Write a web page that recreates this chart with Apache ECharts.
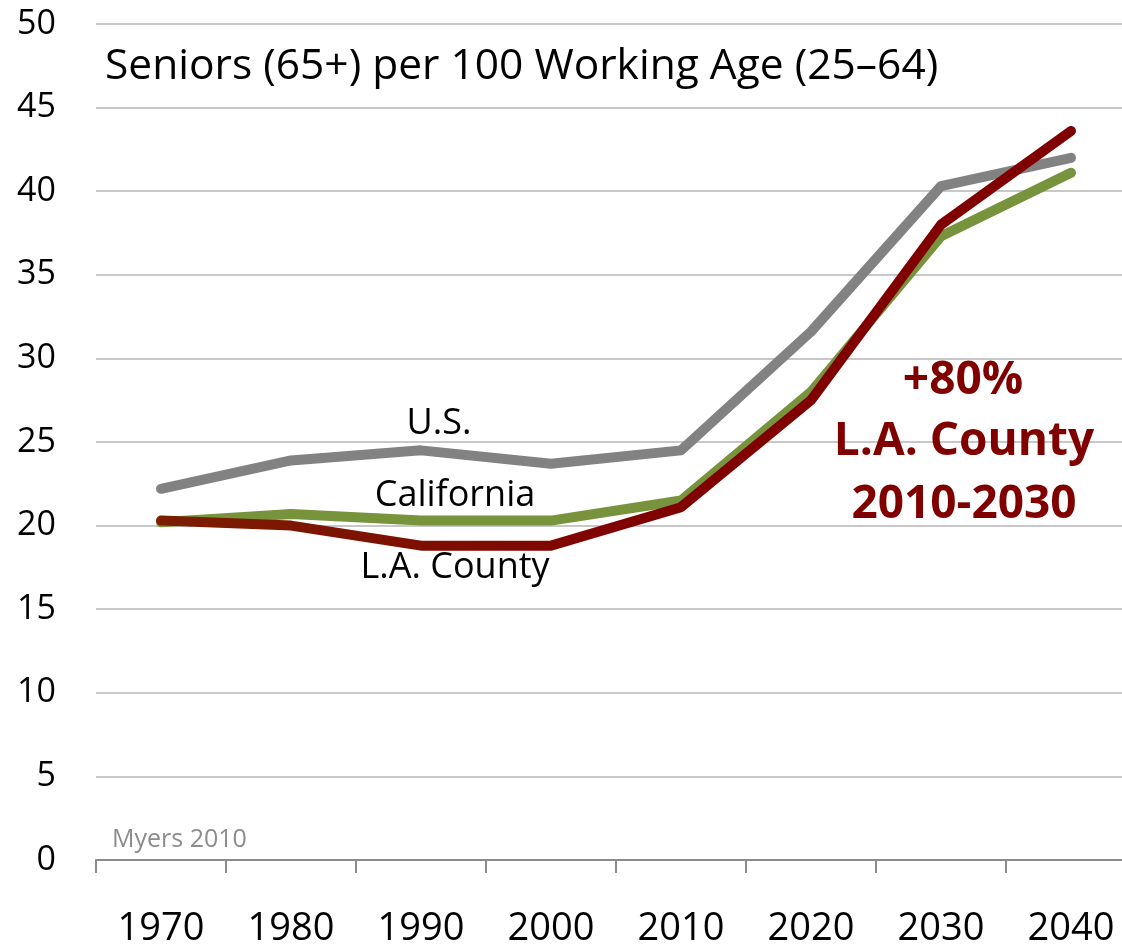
<!DOCTYPE html>
<html><head><meta charset="utf-8">
<script src="https://cdn.jsdelivr.net/npm/echarts@6/dist/echarts.min.js"></script>
<style>html,body{margin:0;padding:0;background:#fff;overflow:hidden}#c{width:1122px;height:944px}</style>
</head><body><div id="c"></div>
<script>
const years = ['1970','1980','1990','2000','2010','2020','2030','2040'];
const us = [22.2, 23.9, 24.5, 23.7, 24.5, 31.6, 40.3, 42.0];
const california = [20.2, 20.7, 20.3, 20.3, 21.5, 28.0, 37.3, 41.1];
const laCounty = [20.3, 20.0, 18.8, 18.8, 21.1, 27.5, 38.0, 43.6];
const yTicks = {min: 0, max: 50, interval: 5};

const FONT = '"Open Sans", "Noto Sans", sans-serif';
const chart = echarts.init(document.getElementById('c'), null, {renderer: 'canvas'});
chart.setOption({
  backgroundColor: '#fff',
  animation: false,
  grid: {left: 96, width: 1040, top: 24, bottom: 84, containLabel: false, outerBoundsMode: 'none'},
  xAxis: {
    type: 'category', data: years, boundaryGap: true,
    axisLine: {lineStyle: {color: '#8c8c8c', width: 2}},
    axisTick: {show: true, length: 13, lineStyle: {color: '#8c8c8c', width: 2}},
    axisLabel: {color: '#000', fontSize: 38, fontFamily: FONT, margin: 50}
  },
  yAxis: {
    type: 'value', min: yTicks.min, max: yTicks.max, interval: yTicks.interval,
    axisLine: {show: false}, axisTick: {show: false},
    axisLabel: {color: '#000', fontSize: 34, fontFamily: FONT, margin: 40},
    splitLine: {lineStyle: {color: '#c8c8c8', width: 2}}
  },
  series: [
    {name: 'U.S.', type: 'line', data: us, symbol: 'none', z: 2,
     lineStyle: {color: '#828282', width: 10, cap: 'round', join: 'round'}},
    {name: 'California', type: 'line', data: california, symbol: 'none', z: 3,
     lineStyle: {color: '#77933c', width: 10, cap: 'round', join: 'round'}},
    {name: 'L.A. County', type: 'line', data: laCounty, symbol: 'none', z: 4,
     lineStyle: {width: 10, cap: 'round', join: 'round',
       color: {type: 'linear', x: 0, y: 0, x2: 1, y2: 0,
         colorStops: [{offset: 0, color: '#7b1f00'}, {offset: 0.55, color: '#800000'}, {offset: 1, color: '#800000'}]}}}
  ],
  graphic: [
    {type: 'text', z: 100, x: 105, y: 67, style: {text: 'Seniors (65+) per 100 Working Age (25–64)', font: '42.5px ' + FONT, fill: '#000', verticalAlign: 'middle'}},
    {type: 'text', z: 100, x: 439, y: 424, style: {text: 'U.S.', font: '36px ' + FONT, fill: '#000', align: 'center', verticalAlign: 'middle'}},
    {type: 'text', z: 100, x: 455, y: 496, style: {text: 'California', font: '36px ' + FONT, fill: '#000', align: 'center', verticalAlign: 'middle'}},
    {type: 'text', z: 100, x: 455, y: 568, style: {text: 'L.A. County', font: '36px ' + FONT, fill: '#000', align: 'center', verticalAlign: 'middle'}},
    {type: 'text', z: 100, x: 963, y: 381, style: {text: '+80%', font: 'bold 46px ' + FONT, fill: '#800000', align: 'center', verticalAlign: 'middle'}},
    {type: 'text', z: 100, x: 964, y: 442, style: {text: 'L.A. County', font: 'bold 46px ' + FONT, fill: '#800000', align: 'center', verticalAlign: 'middle'}},
    {type: 'text', z: 100, x: 964, y: 505, style: {text: '2010-2030', font: 'bold 46px ' + FONT, fill: '#800000', align: 'center', verticalAlign: 'middle'}},
    {type: 'text', z: 100, x: 112, y: 840, style: {text: 'Myers 2010', font: '25px ' + FONT, fill: '#8c8c8c', verticalAlign: 'middle'}}
  ]
});
</script></body></html>
